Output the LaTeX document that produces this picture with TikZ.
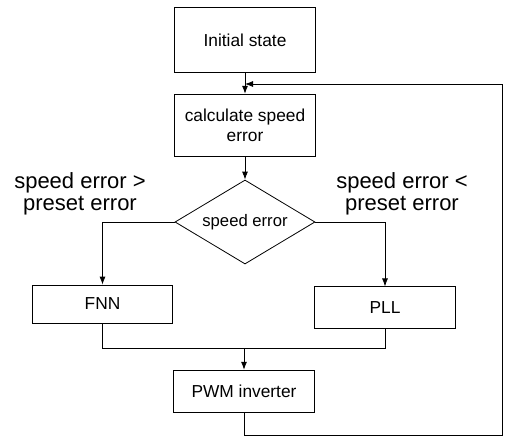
\documentclass[tikz,border=0pt]{standalone}
\usepackage{fontspec}
\setmainfont{Liberation Sans}
\usetikzlibrary{shapes.geometric,arrows.meta}

\tikzset{
  block/.style={draw,line width=0.6pt,minimum width=105.5pt,inner sep=2pt,align=center,
    font=\fontsize{13}{15}\selectfont},
  decide/.style={draw,diamond,line width=0.6pt,minimum width=105pt,minimum height=63pt,
    inner sep=0pt,aspect=1.67,font=\fontsize{12.5}{15}\selectfont},
  flow/.style={line width=0.6pt,-{Latex[length=6pt,width=4.5pt]}},
  plain/.style={line width=0.6pt},
  cond/.style={align=center,font=\fontsize{16.5}{16.5}\selectfont}
}

\begin{document}
\begin{tikzpicture}[x=0.75pt,y=-0.75pt]
  \useasboundingbox (0,0) rectangle (511,436);

  \node[block,minimum height=48.5pt] (init) at (245,40) {Initial state};
  \node[block,minimum height=47pt] (calc) at (245,125.5) {calculate speed\\error};
  \node[decide] (dia) at (245,222) {speed error};
  \node[block,minimum height=28.5pt] (fnn) at (102.5,304) {FNN};
  \node[block,minimum height=31pt] (pll) at (385,307.5) {PLL};
  \node[block,minimum height=32pt] (pwm) at (244,391.5) {PWM inverter};

  \node[cond] (big) at (80,194) {speed error >\\preset error};
  \node[cond] (small) at (402,194) {speed error <\\preset error};

  \coordinate (merge) at (244,348);
  \coordinate (loopbot) at (502,435);
  \coordinate (looptop) at (502,84);

  \draw[flow] (init) -- (calc);
  \draw[flow] (calc) -- (dia);
  \draw[flow] (dia.west) -| (fnn.north);
  \draw[flow] (dia.east) -| (pll.north);
  \draw[plain] (fnn.south) |- (merge);
  \draw[plain] (pll.south) |- (merge);
  \draw[flow] (merge) -- (pwm.north);
  \draw[flow] (pwm.south) |- (loopbot) -- (looptop) -- (init.south |- looptop);
\end{tikzpicture}
\end{document}
